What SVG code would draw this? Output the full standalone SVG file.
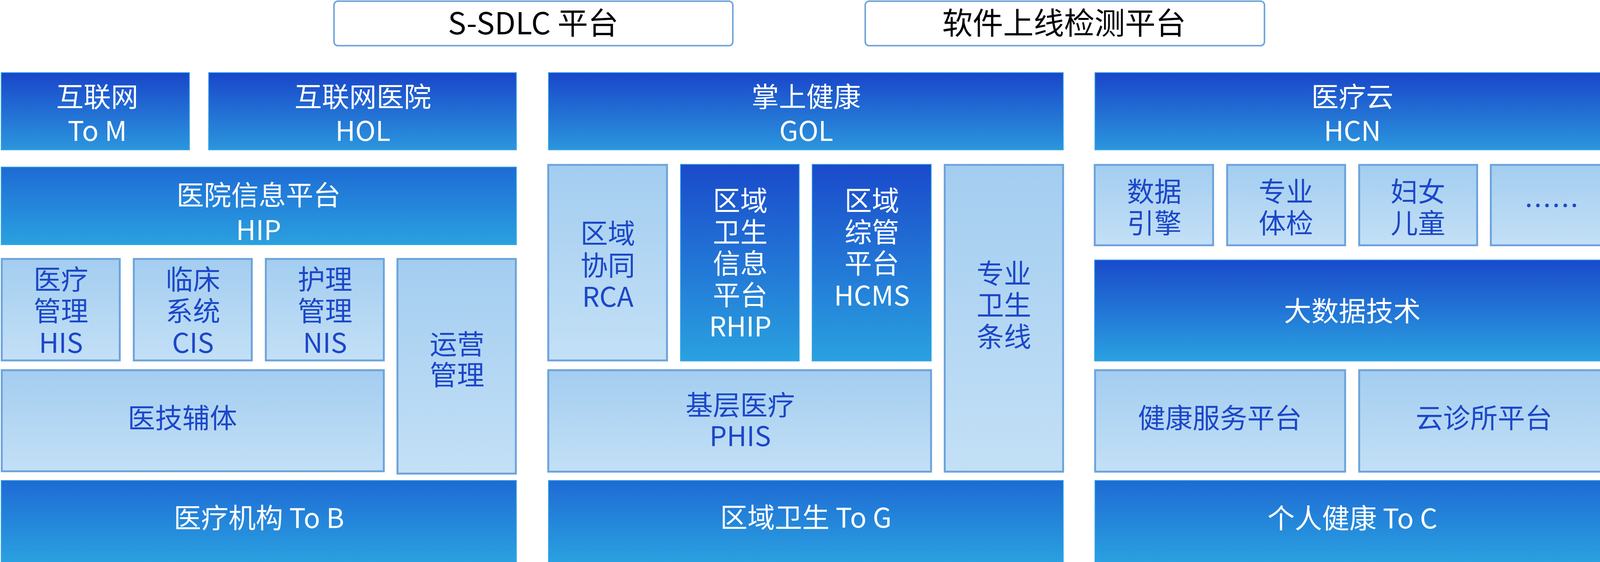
<svg xmlns="http://www.w3.org/2000/svg" width="4123" height="1440" viewBox="0 0 4123 1440">
<defs>
<linearGradient id="gA" x1="0" y1="0" x2="0" y2="1"><stop offset="0" stop-color="#1946ca"/><stop offset="1" stop-color="#2b96dd"/></linearGradient>
<linearGradient id="gB" x1="0" y1="0" x2="0" y2="1"><stop offset="0" stop-color="#1e6bd4"/><stop offset="1" stop-color="#2aa1e0"/></linearGradient>
<linearGradient id="gC" x1="0" y1="0" x2="0" y2="1"><stop offset="0" stop-color="#1a4acb"/><stop offset="1" stop-color="#2aa1e0"/></linearGradient>
<linearGradient id="gL" x1="0" y1="0" x2="0" y2="1"><stop offset="0" stop-color="#a3cdf0"/><stop offset="1" stop-color="#c3e0f6"/></linearGradient>
</defs>
<style>
.dk{stroke:#3ba8e6;stroke-width:2}
.a{fill:url(#gA)}
.b{fill:url(#gB)}
.c{fill:url(#gC)}
.lt{fill:url(#gL);stroke:#6fa5dc;stroke-width:5}
.top{fill:#ffffff;stroke:#72a6dc;stroke-width:4}
text{font-family:"Noto Sans CJK SC","Noto Sans",sans-serif;font-size:70px;text-anchor:middle}
.w{fill:#ffffff}
.u{fill:#1c47c8}
.k{fill:#000000;font-size:78px}
</style>
<rect width="4123" height="1440" fill="#ffffff"/>
<g id="connectors"></g>

<g id="sdlc"><rect class="top" x="855" y="3" width="1021" height="114" rx="10"/><text class="k" x="1365" y="88">S-SDLC 平台</text></g>
<g id="online-test"><rect class="top" x="2215" y="3" width="1022" height="114" rx="10"/><text class="k" x="2724" y="88">软件上线检测平台</text></g>

<g id="tom"><rect class="dk a" x="3" y="186" width="482" height="198"/><text class="w" x="249" y="274">互联网</text><text class="w" x="249" y="361">To M</text></g>
<g id="hol"><rect class="dk a" x="534" y="186" width="788" height="198"/><text class="w" x="929" y="274">互联网医院</text><text class="w" x="929" y="361">HOL</text></g>
<g id="gol"><rect class="dk a" x="1404" y="186" width="1318" height="198"/><text class="w" x="2064" y="274">掌上健康</text><text class="w" x="2064" y="361">GOL</text></g>
<g id="hcn"><rect class="dk a" x="2803" y="186" width="1318" height="198"/><text class="w" x="3462" y="274">医疗云</text><text class="w" x="3462" y="361">HCN</text></g>

<g id="hip"><rect class="dk b" x="3" y="428" width="1319" height="199"/><text class="w" x="662" y="526">医院信息平台</text><text class="w" x="662" y="615">HIP</text></g>

<g id="his"><rect class="lt" x="4.5" y="663.5" width="302" height="260"/><text class="u" x="156" y="742">医疗</text><text class="u" x="156" y="823">管理</text><text class="u" x="156" y="904">HIS</text></g>
<g id="cis"><rect class="lt" x="342.5" y="663.5" width="302" height="260"/><text class="u" x="494" y="742">临床</text><text class="u" x="494" y="823">系统</text><text class="u" x="494" y="904">CIS</text></g>
<g id="nis"><rect class="lt" x="680.5" y="663.5" width="302" height="260"/><text class="u" x="832" y="742">护理</text><text class="u" x="832" y="823">管理</text><text class="u" x="832" y="904">NIS</text></g>
<g id="ops"><rect class="lt" x="1017.5" y="663.5" width="303" height="550"/><text class="u" x="1170" y="908">运营</text><text class="u" x="1170" y="987">管理</text></g>
<g id="medtech"><rect class="lt" x="4.5" y="948.5" width="978" height="259"/><text class="u" x="467" y="1097">医技辅体</text></g>
<g id="tob"><rect class="dk b" x="3" y="1231" width="1319" height="210"/><text class="w" x="663" y="1353">医疗机构 To B</text></g>

<g id="rca"><rect class="lt" x="1403.5" y="422.5" width="304" height="501"/><text class="u" x="1556" y="624">区域</text><text class="u" x="1556" y="706">协同</text><text class="u" x="1556" y="786">RCA</text></g>
<g id="rhip"><rect class="dk c" x="1742" y="421" width="304" height="504"/><text class="w" x="1895" y="540">区域</text><text class="w" x="1895" y="621">卫生</text><text class="w" x="1895" y="701">信息</text><text class="w" x="1895" y="782">平台</text><text class="w" x="1895" y="862">RHIP</text></g>
<g id="hcms"><rect class="dk c" x="2079" y="421" width="305" height="504"/><text class="w" x="2232" y="540">区域</text><text class="w" x="2232" y="621">综管</text><text class="w" x="2232" y="701">平台</text><text class="w" x="2232" y="783">HCMS</text></g>
<g id="special"><rect class="lt" x="2418.5" y="422.5" width="303" height="786"/><text class="u" x="2570" y="727">专业</text><text class="u" x="2570" y="808">卫生</text><text class="u" x="2570" y="889">条线</text></g>
<g id="phis"><rect class="lt" x="1403.5" y="948.5" width="980" height="260"/><text class="u" x="1895" y="1064">基层医疗</text><text class="u" x="1895" y="1143">PHIS</text></g>
<g id="tog"><rect class="dk b" x="1404" y="1231" width="1318" height="210"/><text class="w" x="2063" y="1352">区域卫生 To G</text></g>

<g id="dataengine"><rect class="lt" x="2802.5" y="422.5" width="303" height="206"/><text class="u" x="2955" y="517">数据</text><text class="u" x="2955" y="598">引擎</text></g>
<g id="checkup"><rect class="lt" x="3141.5" y="422.5" width="302" height="206"/><text class="u" x="3292" y="517">专业</text><text class="u" x="3292" y="598">体检</text></g>
<g id="women"><rect class="lt" x="3479.5" y="422.5" width="302" height="206"/><text class="u" x="3630" y="517">妇女</text><text class="u" x="3630" y="598">儿童</text></g>
<g id="more"><rect class="lt" x="3816.5" y="422.5" width="303" height="206"/><text class="u" x="3972" y="553">……</text></g>
<g id="bigdata"><rect class="dk c" x="2802" y="666" width="1319" height="259"/><text class="w" x="3462" y="823">大数据技术</text></g>
<g id="health"><rect class="lt" x="2803.5" y="948.5" width="640" height="260"/><text class="u" x="3123" y="1097">健康服务平台</text></g>
<g id="clinic"><rect class="lt" x="3479.5" y="948.5" width="640" height="260"/><text class="u" x="3799" y="1097">云诊所平台</text></g>
<g id="toc"><rect class="dk b" x="2803" y="1231" width="1318" height="210"/><text class="w" x="3462" y="1354">个人健康 To C</text></g>
</svg>
